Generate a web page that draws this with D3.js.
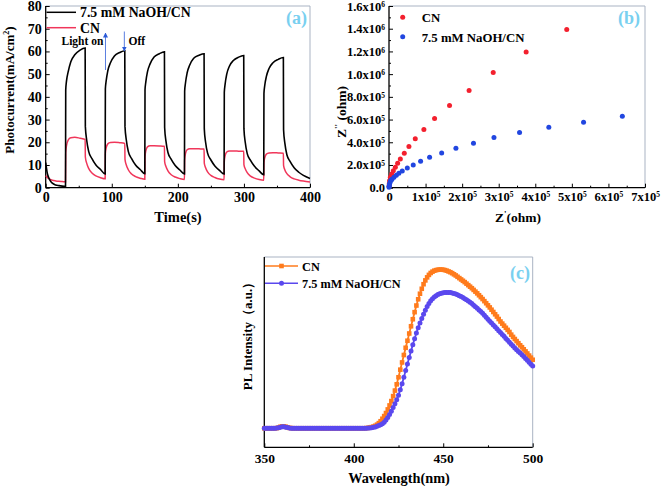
<!DOCTYPE html>
<html><head><meta charset="utf-8">
<script src="https://cdn.jsdelivr.net/npm/d3@7/dist/d3.min.js"></script>
<style>
body{margin:0;background:#fff}
svg text{font-family:"Liberation Serif","Times New Roman",serif;font-weight:bold;fill:#000}
</style>
</head><body>
<svg id="fig" width="661" height="486"></svg>
<script>
// ---------- Panel (a): photocurrent ----------
const timeS = [0,1,2,4,7,10,15,20,25,
 30,30.3,31.5,34,38,44,52,59.7,60,62,65,70,76,83,
 90,90.3,91.5,94,98,104,112,119.7,120,122,125,130,136,143,
 150,150.3,151.5,154,158,164,172,179.7,180,182,185,190,196,203,
 210,210.3,211.5,214,218,224,232,239.7,240,242,245,250,256,263,
 270,270.3,271.5,274,278,284,292,299.7,300,302,305,310,316,323,
 330,330.3,331.5,334,338,344,352,359.7,360,362,365,370,376,383,390,400];
const photoNaOH = [11,9,7,4.8,3,2,1.2,0.9,0.7,
 0.6,43,47,51,55.5,58.5,60.6,61.5,27,21,16,12.8,10,8,
 6.0,43.5,47,51.5,55,58,59.5,60.3,27,21,16,12.8,10,8,
 6.2,43,46.5,51,54.5,57.5,59,59.8,26.5,20.5,15.5,12.5,9.8,7.8,
 6.1,42.5,46,50.5,54,57,58.3,59.0,26,20,15.2,12.2,9.6,7.6,
 6.0,42,45.5,50,53.5,56,57.5,58.2,26,20,15,12,9.4,7.4,
 5.7,41.5,45,49,52.5,55,56.5,57.3,25.5,19.5,14.5,11.5,8.8,6.8,5.4,4.1];
const photoCN = [5.3,5.0,4.6,4.1,3.6,3.3,3.0,2.8,2.7,
 2.6,15.5,18.5,21,22,22.2,21.8,21.3,13.5,10.8,8.5,6.5,5.2,4.4,
 3.9,15,17.5,19.3,19.9,20,19.8,19.5,12.5,10,7.9,6.0,4.9,4.2,
 3.7,13.5,16.2,18,18.5,18.5,18.4,18.2,11.5,9.3,7.4,5.7,4.7,4.0,
 3.6,12.2,15,16.7,17.2,17.2,17.1,17.0,10.8,8.8,7.0,5.4,4.5,3.8,
 3.5,11.5,14,15.7,16.2,16.2,16.1,16.0,10.2,8.3,6.6,5.1,4.2,3.6,
 3.3,11,13.2,14.8,15.3,15.4,15.3,15.2,9.8,7.8,6.2,4.8,3.9,3.3,2.9,2.5];
const aXTicks = [0,100,200,300,400];
const aYTicks = [0,10,20,30,40,50,60,70,80];

// ---------- Panel (b): Nyquist (units of 1e5 ohm) ----------
const cnZre  = [0.003,0.008,0.015,0.036,0.073,0.118,0.173,0.236,0.31,0.418,0.545,0.718,0.954,1.246,1.655,2.19,2.85,3.75,4.86];
const cnZim  = [0.12,0.35,0.62,0.92,1.21,1.50,1.80,2.15,2.53,3.04,3.62,4.30,5.12,6.09,7.24,8.56,10.15,11.95,13.92];
const naohZre = [0.001,0.004,0.01,0.02,0.036,0.056,0.082,0.136,0.2,0.27,0.363,0.5,0.663,0.864,1.11,1.44,1.83,2.31,2.87,3.57,4.37,5.32,6.38];
const naohZim = [0.04,0.12,0.25,0.39,0.56,0.65,0.74,0.92,1.09,1.27,1.47,1.74,2.0,2.33,2.68,3.06,3.48,3.92,4.41,4.85,5.33,5.77,6.30];
const bXTicks = [0,1,2,3,4,5,6,7];
const bYTicks = [0,2,4,6,8,10,12,14,16];

// ---------- Panel (c): PL spectra ----------
const wavelength = [350,351,352,353,354,355,356,357,358,359,360,361,362,363,364,365,366,367,368,369,
 370,371,372,373,374,375,376,377,378,379,380,381,382,383,384,385,386,387,388,389,
 390,391,392,393,394,395,396,397,398,399,400,401,402,403,404,405,406,407,408,409,
 410,411,412,413,414,415,416,417,418,419,420,421,422,423,424,425,426,427,428,429,
 430,431,432,433,434,435,436,437,438,439,440,441,442,443,444,445,446,447,448,449,
 450,451,452,453,454,455,456,457,458,459,460,461,462,463,464,465,466,467,468,469,
 470,471,472,473,474,475,476,477,478,479,480,481,482,483,484,485,486,487,488,489,
 490,491,492,493,494,495,496,497,498,499,500];
const plCN = [100,100,100,100,100,100,100,101,104,108,110,110,108,105,102,
 101,100,100,100,100,100,100,100,100,100,100,100,100,100,100,100,100,100,100,100,
 100,100,100,100,100,100,100,100,100,100,100,100,100,100,100,100,100,100,100,100,100,
 100,101,102,104,106,109,113,119,127,137,
 150,164,180,199,220,243,269,298,331,368,
 408,446,485,523,560,598,636,673,710,745,
 778,807,833,857,877,893,906,916,923,928,
 931,933,934,934,933,931,928,924,920,915,
 909,903,896,889,882,875,868,860,852,844,
 836,827,818,809,799,789,779,768,757,746,
 735,723,711,699,687,674,661,650,639,628,
 617,606,592,580,569,558,547,536,526,515,
 504,493,482,471,460];
const plNaOH = [100,100,100,100,100,100,100,101,103,106,108,108,106,104,101,
 100,100,100,100,100,100,100,100,100,100,100,100,100,100,100,100,100,100,100,100,
 100,100,100,100,100,100,100,100,100,100,100,100,100,100,100,100,100,100,100,100,100,
 100,100,101,102,103,105,107,110,114,119,
 124,132,143,156,172,190,209,229,250,274,
 302,334,368,403,438,472,506,539,571,601,
 628,653,677,699,720,740,756,770,781,790,
 797,803,807,810,812,813,814,814,813,811,
 808,805,801,797,792,787,781,775,769,762,
 755,747,739,731,722,713,704,694,684,673,
 663,653,643,633,623,613,603,593,583,572,
 562,552,542,532,522,513,504,495,486,477,
 467,457,447,437,427];
const cXTicks = [350,400,450,500];
const cXMinor = [375,425,475];

const svg = d3.select('#fig');
svg.append('rect').attr('width',661).attr('height',486).attr('fill','#fff');

const FRAME_LIGHT = '#a9b3c3';
const LABEL_BLUE = '#79d0f0';

function frame(g, x0, y0, x1, y1){
  g.append('line').attr('x1',x0).attr('x2',x1).attr('y1',y0).attr('y2',y0).attr('stroke',FRAME_LIGHT).attr('stroke-width',1);
  g.append('line').attr('x1',x1).attr('x2',x1).attr('y1',y0).attr('y2',y1).attr('stroke',FRAME_LIGHT).attr('stroke-width',1);
  g.append('line').attr('x1',x0).attr('x2',x0).attr('y1',y0).attr('y2',y1).attr('stroke','#000').attr('stroke-width',1.3);
  g.append('line').attr('x1',x0).attr('x2',x1).attr('y1',y1).attr('y2',y1).attr('stroke','#000').attr('stroke-width',1.3);
}
function styleAxis(sel, fs){
  sel.select('.domain').remove();
  sel.attr('font-family',null).attr('font-size',null);
  sel.selectAll('text').attr('font-size',fs);
  sel.selectAll('line').attr('stroke','#000').attr('stroke-width',1);
}

// ================= Panel (a) =================
{
  const g = svg.append('g');
  const x = d3.scaleLinear().domain([0,400]).range([45.7,310]);
  const y = d3.scaleLinear().domain([0,80]).range([187.7,6]);
  frame(g, x.range()[0], y.range()[1], x.range()[1], y.range()[0]);
  g.append('g').attr('transform',`translate(0,${y(0)})`)
    .call(d3.axisBottom(x).tickValues([50,150,250,350]).tickSize(-2).tickFormat(''))
    .call(s=>styleAxis(s,14));
  g.append('g').attr('transform',`translate(0,${y(0)})`)
    .call(d3.axisBottom(x).tickValues(aXTicks).tickSize(-4).tickPadding(4))
    .call(s=>styleAxis(s,14));
  g.append('g').attr('transform',`translate(${x(0)},0)`)
    .call(d3.axisLeft(y).tickValues([5,15,25,35,45,55,65,75]).tickSize(-2).tickFormat(''))
    .call(s=>styleAxis(s,14));
  g.append('g').attr('transform',`translate(${x(0)},0)`)
    .call(d3.axisLeft(y).tickValues(aYTicks).tickSize(-4).tickPadding(4))
    .call(s=>styleAxis(s,14));

  const line = (vals)=>d3.line().x((d,i)=>x(timeS[i])).y(d=>y(d)).curve(d3.curveMonotoneX)(vals);
  g.append('path').attr('d',line(photoCN)).attr('fill','none').attr('stroke','#f0365a').attr('stroke-width',1.5);
  g.append('path').attr('d',line(photoNaOH)).attr('fill','none').attr('stroke','#000').attr('stroke-width',1.6);

  // legend
  g.append('line').attr('x1',46.5).attr('x2',76).attr('y1',12.3).attr('y2',12.3).attr('stroke','#000').attr('stroke-width',1.5);
  g.append('text').attr('x',80).attr('y',17).attr('font-size',13.8).text('7.5 mM NaOH/CN');
  g.append('line').attr('x1',46.5).attr('x2',76).attr('y1',27.7).attr('y2',27.7).attr('stroke','#f0365a').attr('stroke-width',1.5);
  g.append('text').attr('x',80).attr('y',33).attr('font-size',13.8).text('CN');

  // annotations
  const defs = svg.append('defs');
  defs.append('marker').attr('id','ah').attr('viewBox','0 0 10 10').attr('refX',9).attr('refY',5)
    .attr('markerWidth',5).attr('markerHeight',5).attr('orient','auto')
    .append('path').attr('d','M0,0L10,5L0,10z').attr('fill','#2b5ad8');
  g.append('text').attr('x',61.5).attr('y',45).attr('font-size',11.5).text('Light on');
  g.append('line').attr('x1',x(90.5)).attr('x2',x(90.5)).attr('y1',70).attr('y2',33).attr('stroke','#5b7fe0').attr('stroke-width',1).attr('marker-end','url(#ah)');
  g.append('text').attr('x',128.5).attr('y',45).attr('font-size',11.5).text('Off');
  g.append('line').attr('x1',x(119)).attr('x2',x(119)).attr('y1',31.5).attr('y2',51).attr('stroke','#5b7fe0').attr('stroke-width',1).attr('marker-end','url(#ah)');

  g.append('text').attr('x',296.5).attr('y',24).attr('text-anchor','middle').attr('font-size',18).style('fill',LABEL_BLUE).text('(a)');
  g.append('text').attr('x',178).attr('y',222).attr('text-anchor','middle').attr('font-size',14.5).text('Time(s)');
  const yl = g.append('text').attr('transform','translate(14,90) rotate(-90)').attr('text-anchor','middle').attr('font-size',13);
  yl.append('tspan').text('Photocurrent(mA/cm');
  yl.append('tspan').attr('dy',-5).attr('font-size',8).text('2');
  yl.append('tspan').attr('dy',5).text(')');
}

// ================= Panel (b) =================
{
  const g = svg.append('g');
  const x = d3.scaleLinear().domain([0,7]).range([389,645]);
  const y = d3.scaleLinear().domain([0,16]).range([187.7,6]);
  frame(g, x.range()[0], y.range()[1], x.range()[1], y.range()[0]);
  g.append('g').attr('transform',`translate(0,${y(0)})`)
    .call(d3.axisBottom(x).tickValues([0.5,1.5,2.5,3.5,4.5,5.5,6.5]).tickSize(-2).tickFormat(''))
    .call(s=>styleAxis(s,12.5));
  g.append('g').attr('transform',`translate(0,${y(0)})`)
    .call(d3.axisBottom(x).tickValues(bXTicks).tickSize(-4).tickPadding(4))
    .call(s=>styleAxis(s,12.5))
    .call(s=>s.selectAll('text').each(function(d){
      const t=d3.select(this); t.text(null);
      if(d===0){ t.text('0'); return; }
      t.append('tspan').text(d+'x10');
      t.append('tspan').attr('dy','-0.45em').attr('font-size',7.5).text('5');
    }));
  g.append('g').attr('transform',`translate(${x(0)},0)`)
    .call(d3.axisLeft(y).tickValues([1,3,5,7,9,11,13,15]).tickSize(-2).tickFormat(''))
    .call(s=>styleAxis(s,12.5));
  g.append('g').attr('transform',`translate(${x(0)},0)`)
    .call(d3.axisLeft(y).tickValues(bYTicks).tickSize(-4).tickPadding(4))
    .call(s=>styleAxis(s,12.5))
    .call(s=>s.selectAll('text').each(function(d){
      const t=d3.select(this); t.text(null);
      if(d===0){ t.text('0.0'); return; }
      const big = d>=10;
      t.append('tspan').text((big? d/10 : d).toFixed(1)+'x10');
      t.append('tspan').attr('dy','-0.45em').attr('font-size',7.5).text(big?'6':'5');
    }));

  g.selectAll('circle.cn').data(cnZre).join('circle').attr('class','cn')
    .attr('cx',d=>x(d)).attr('cy',(d,i)=>y(cnZim[i])).attr('r',2.5).attr('fill','#f3202e');
  g.selectAll('circle.na').data(naohZre).join('circle').attr('class','na')
    .attr('cx',d=>x(d)).attr('cy',(d,i)=>y(naohZim[i])).attr('r',2.5).attr('fill','#2146e0');

  g.append('circle').attr('cx',402.7).attr('cy',17.3).attr('r',2.5).attr('fill','#f3202e');
  g.append('text').attr('x',421.7).attr('y',22).attr('font-size',12.8).text('CN');
  g.append('circle').attr('cx',402.7).attr('cy',36.7).attr('r',2.5).attr('fill','#2146e0');
  g.append('text').attr('x',421.7).attr('y',41.5).attr('font-size',12.8).text('7.5 mM NaOH/CN');
  g.append('text').attr('x',629).attr('y',24).attr('text-anchor','middle').attr('font-size',18).style('fill',LABEL_BLUE).text('(b)');

  const xl = g.append('text').attr('x',518).attr('y',222).attr('text-anchor','middle').attr('font-size',13.5);
  xl.append('tspan').text('Z');
  xl.append('tspan').attr('dy',-5).attr('font-size',9).text("'");
  xl.append('tspan').attr('dy',5).text('(ohm)');
  const yl = g.append('text').attr('transform','translate(346,112) rotate(-90)').attr('text-anchor','middle').attr('font-size',13.5);
  yl.append('tspan').text('Z');
  yl.append('tspan').attr('dy',-5).attr('font-size',9).text("''");
  yl.append('tspan').attr('dy',5).text(' (ohm)');
}

// ================= Panel (c) =================
{
  const g = svg.append('g');
  const x = d3.scaleLinear().domain([350,500]).range([264.3,532.7]);
  const y = d3.scaleLinear().domain([0,1000]).range([447.3,257]);
  frame(g, x.range()[0], y.range()[1], x.range()[1], y.range()[0]);
  g.append('g').attr('transform',`translate(0,${y(0)})`)
    .call(d3.axisBottom(x).tickValues(cXMinor).tickSize(-2).tickFormat(''))
    .call(s=>styleAxis(s,13.5));
  g.append('g').attr('transform',`translate(0,${y(0)})`)
    .call(d3.axisBottom(x).tickValues(cXTicks).tickSize(-4).tickPadding(6))
    .call(s=>styleAxis(s,13.5));

  const ORANGE = '#ff7b1c', VIOLET = '#5a48ee';
  const line = d3.line().x((d,i)=>x(wavelength[i])).y(d=>y(d));
  g.append('path').attr('d',line(plCN)).attr('fill','none').attr('stroke',ORANGE).attr('stroke-width',1.8);
  g.selectAll('rect.cn').data(plCN).join('rect').attr('class','cn')
    .attr('x',(d,i)=>x(wavelength[i])-2.3).attr('y',d=>y(d)-2.3).attr('width',4.6).attr('height',4.6).attr('fill',ORANGE);
  g.append('path').attr('d',line(plNaOH)).attr('fill','none').attr('stroke',VIOLET).attr('stroke-width',1.8);
  g.selectAll('circle.na').data(plNaOH).join('circle').attr('class','na')
    .attr('cx',(d,i)=>x(wavelength[i])).attr('cy',d=>y(d)).attr('r',2.5).attr('fill',VIOLET);

  // legend
  g.append('line').attr('x1',265).attr('x2',298).attr('y1',266).attr('y2',266).attr('stroke',ORANGE).attr('stroke-width',1.5);
  g.append('rect').attr('x',279.2).attr('y',263.7).attr('width',4.6).attr('height',4.6).attr('fill',ORANGE);
  g.append('text').attr('x',302).attr('y',270.5).attr('font-size',12.3).text('CN');
  g.append('line').attr('x1',265).attr('x2',298).attr('y1',283.3).attr('y2',283.3).attr('stroke',VIOLET).attr('stroke-width',1.5);
  g.append('circle').attr('cx',281.5).attr('cy',283.3).attr('r',2.5).attr('fill',VIOLET);
  g.append('text').attr('x',302).attr('y',288).attr('font-size',12.3).text('7.5 mM NaOH/CN');
  g.append('text').attr('x',520).attr('y',279).attr('text-anchor','middle').attr('font-size',18).style('fill',LABEL_BLUE).text('(c)');

  g.append('text').attr('x',399).attr('y',483).attr('text-anchor','middle').attr('font-size',14.3).text('Wavelength(nm)');
  g.append('text').attr('transform','translate(252,333) rotate(-90)').attr('text-anchor','middle').attr('font-size',13).text('PL Intensity（a.u.）');
}
</script>
</body></html>
